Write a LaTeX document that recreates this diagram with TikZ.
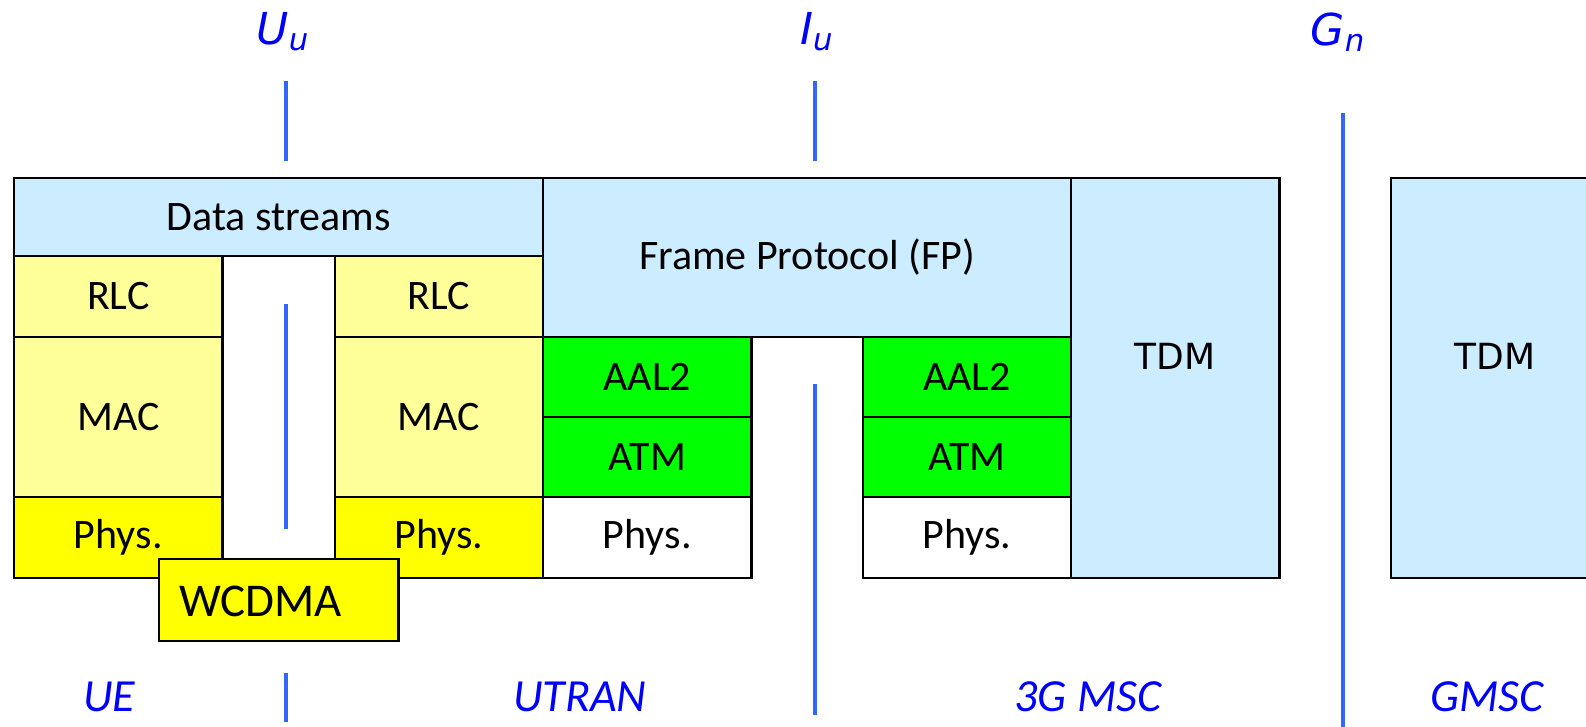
\documentclass[tikz,border=0pt]{standalone}
\usepackage{fontspec}
\setmainfont{Carlito}
\newfontfamily\verd{DejaVu Sans}
\usepackage{tikz}

\definecolor{lblue}{HTML}{CCECFF}
\definecolor{lyell}{HTML}{FFFF99}
\definecolor{yell}{HTML}{FFFF00}
\definecolor{grn}{HTML}{00FF00}
\definecolor{ifline}{HTML}{3366FF}
\definecolor{iftext}{HTML}{0000FF}

\tikzset{
  layer/.style={draw=black, line width=1.3pt},
  iface/.style={draw=ifline, line width=1.8pt},
  ifname/.style={text=iftext, font=\fontsize{23}{26}\selectfont\itshape},
  topname/.style={text=iftext, font=\verd\fontsize{22}{25}\selectfont\itshape},
  boxtext/.style={font=\fontsize{21}{24}\selectfont},
  tdmtext/.style={font=\verd\fontsize{18}{21}\selectfont}
}

\begin{document}
\begin{tikzpicture}[x=0.5pt,y=-0.5pt]
\useasboundingbox (0,0) rectangle (1586,727);

% UE side and UTRAN radio part
\draw[layer,fill=lblue] (14,178) rectangle node[boxtext] (ds) {Data streams} (543,256);
\draw[layer,fill=lyell] (14,256) rectangle node[boxtext] (rlcA) {RLC} (222.5,337);
\draw[layer,fill=lyell] (14,337) rectangle node[boxtext] (macA) {MAC} (222.5,497);
\draw[layer,fill=yell] (14,497) rectangle node[boxtext] (phyA) {Phys.} (222.5,578);
\draw[layer,fill=lyell] (335,256) rectangle node[boxtext] (rlcB) {RLC} (543,337);
\draw[layer,fill=lyell] (335,337) rectangle node[boxtext] (macB) {MAC} (543,497);
\draw[layer,fill=yell] (335,497) rectangle node[boxtext] (phyB) {Phys.} (543,578);

% Iu part
\draw[layer,fill=lblue] (543,178) rectangle node[boxtext] (fp) {Frame Protocol (FP)} (1071,337);
\draw[layer,fill=grn] (543,337) rectangle node[boxtext] (aalA) {AAL2} (751.5,417);
\draw[layer,fill=grn] (543,417) rectangle node[boxtext] (atmA) {ATM} (751.5,497);
\draw[layer,fill=white] (543,497) rectangle node[boxtext] (phyC) {Phys.} (751.5,578);
\draw[layer,fill=grn] (863,337) rectangle node[boxtext] (aalB) {AAL2} (1071,417);
\draw[layer,fill=grn] (863,417) rectangle node[boxtext] (atmB) {ATM} (1071,497);
\draw[layer,fill=white] (863,497) rectangle node[boxtext] (phyD) {Phys.} (1071,578);

% TDM
\draw[layer,fill=lblue] (1071,178) rectangle (1279.5,578);
\node[tdmtext] (tdmA) at (1175,356) {TDM};
\draw[layer,fill=lblue] (1391,178) rectangle (1599,578);
\node[tdmtext] (tdmB) at (1495,356) {TDM};

% radio link
\draw[layer,fill=yell] (159,559) rectangle (398.5,641);
\node[boxtext, font=\fontsize{23.5}{27}\selectfont, anchor=west] (wcdma) at (172,601) {WCDMA};

% interfaces
\draw[iface] (286,81) -- (286,161);
\draw[iface] (286,304) -- (286,529);
\draw[iface] (286,673) -- (286,722);
\draw[iface] (815,81) -- (815,161);
\draw[iface] (815,384) -- (815,715);
\draw[iface] (1343,113) -- (1343,727);

\node[topname] (uu) at (283,32) {U\textsubscript{u}};
\node[topname] (iu) at (817,32) {I\textsubscript{u}};
\node[topname] (gn) at (1338,32) {G\textsubscript{n}};

\node[ifname] (ue) at (109,697) {UE};
\node[ifname] (utran) at (580,697) {UTRAN};
\node[ifname] (msc) at (1088,697) {3G MSC};
\node[ifname] (gmsc) at (1487,697) {GMSC};
\end{tikzpicture}
\end{document}
